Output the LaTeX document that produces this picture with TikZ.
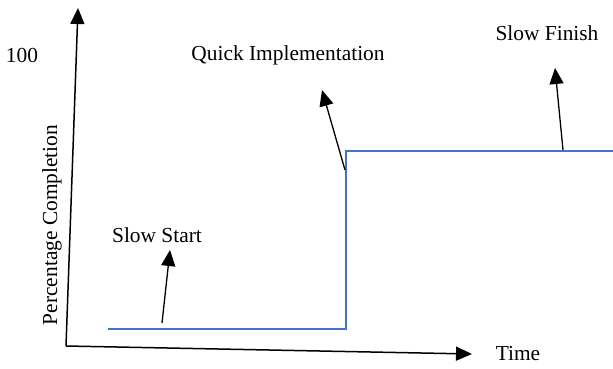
\documentclass[tikz,border=0pt]{standalone}
\usepackage{fontspec}
\setmainfont{Liberation Serif}
\usetikzlibrary{arrows.meta}
\definecolor{stepblue}{HTML}{4472C4}
\begin{document}
\begin{tikzpicture}[x=0.5pt,y=-0.5pt,
  lbl/.style={inner sep=0pt,font=\fontsize{10.7}{13}\selectfont},
  axis/.style={line width=0.75pt,-{Triangle[length=8pt,width=7pt]}},
  pointer/.style={line width=0.65pt,-{Triangle[length=8pt,width=7pt]}},
  curve/.style={draw=stepblue,line width=0.6pt}]
\useasboundingbox (0,0) rectangle (613,368);
% axes
\coordinate (o) at (66,346);
\coordinate (ytop) at (78,8);
\coordinate (xend) at (472,354);
\draw[axis] (o) -- (ytop);
\draw[axis] (o) -- (xend);
% labels
\node[lbl] (hundred) at (22,55) {100};
\node[lbl,rotate=90] (ylabel) at (52,225) {Percentage Completion};
\node[lbl] (time) at (518,354) {Time};
\node[lbl] (start) at (157,235) {Slow Start};
\node[lbl] (quick) at (288,55) {Quick Implementation};
\node[lbl] (finish) at (547,33) {Slow Finish};
% completion curve
\coordinate (c0) at (108,329);
\coordinate (c1) at (346,329);
\coordinate (c2) at (346,151);
\coordinate (c3) at (613,151);
\draw[curve] (c0) -- (c1) -- (c2) -- (c3);
% pointers
\coordinate (s0) at (162,323);
\coordinate (s1) at (170,250);
\coordinate (q0) at (345,170);
\coordinate (q1) at (322,90);
\coordinate (f0) at (563,150);
\coordinate (f1) at (555,68);
\draw[pointer] (s0) -- (s1);
\draw[pointer] (q0) -- (q1);
\draw[pointer] (f0) -- (f1);
\end{tikzpicture}
\end{document}
